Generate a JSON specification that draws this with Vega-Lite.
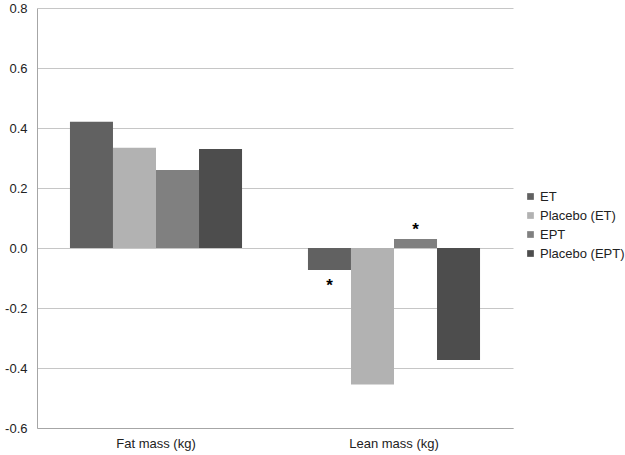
{
  "$schema": "https://vega.github.io/schema/vega-lite/v6.json",
  "width": 476,
  "height": 420,
  "autosize": "none",
  "padding": {"left": 37, "top": 8, "right": 112, "bottom": 27},
  "background": "white",
  "config": {
    "view": {"stroke": null},
    "font": "Liberation Sans",
    "axis": {"labelFont": "Liberation Sans", "labelFontSize": 13, "labelColor": "#222222"}
  },
  "data": {
    "values": [
      {"measure": "Fat mass (kg)", "group": "ET", "value": 0.421, "star": ""},
      {"measure": "Fat mass (kg)", "group": "Placebo (ET)", "value": 0.334, "star": ""},
      {"measure": "Fat mass (kg)", "group": "EPT", "value": 0.26, "star": ""},
      {"measure": "Fat mass (kg)", "group": "Placebo (EPT)", "value": 0.33, "star": ""},
      {"measure": "Lean mass (kg)", "group": "ET", "value": -0.073, "star": "*"},
      {"measure": "Lean mass (kg)", "group": "Placebo (ET)", "value": -0.455, "star": ""},
      {"measure": "Lean mass (kg)", "group": "EPT", "value": 0.03, "star": "*"},
      {"measure": "Lean mass (kg)", "group": "Placebo (EPT)", "value": -0.373, "star": ""}
    ]
  },
  "encoding": {
    "x": {
      "field": "measure", "type": "nominal",
      "scale": {"paddingInner": 0.277, "paddingOuter": 0.1385},
      "axis": {"title": null, "labelAngle": 0, "ticks": false, "domainColor": "#a6a6a6", "labelPadding": 9}
    },
    "xOffset": {"field": "group", "type": "nominal", "sort": ["ET", "Placebo (ET)", "EPT", "Placebo (EPT)"], "scale": {"paddingInner": 0, "paddingOuter": 0}},
    "y": {
      "field": "value", "type": "quantitative",
      "scale": {"domain": [-0.6, 0.8], "nice": false},
      "axis": {"title": null, "values": [-0.6, -0.4, -0.2, 0, 0.2, 0.4, 0.6, 0.8], "labelExpr": "replace(format(datum.value, '.1f'), '\u2212', '-')", "ticks": false, "labelPadding": 10, "domainColor": "#a6a6a6", "gridColor": "#c6c6c6", "grid": true}
    }
  },
  "layer": [
    {
      "mark": {"type": "bar"},
      "encoding": {
        "color": {
          "field": "group", "type": "nominal",
          "sort": ["ET", "Placebo (ET)", "EPT", "Placebo (EPT)"],
          "scale": {"domain": ["ET", "Placebo (ET)", "EPT", "Placebo (EPT)"], "range": ["#616161", "#b2b2b2", "#808080", "#4d4d4d"]},
          "legend": {
            "title": null, "orient": "none", "legendX": 487, "legendY": 182,
            "symbolType": "square", "symbolSize": 45, "symbolStrokeWidth": 0,
            "labelFontSize": 13, "labelFont": "Liberation Sans", "labelColor": "#222222",
            "rowPadding": 5, "labelOffset": 3
          }
        }
      }
    },
    {
      "transform": [{"filter": "datum.star == '*' && datum.value < 0"}],
      "mark": {"type": "text", "baseline": "middle", "dy": 16, "fontSize": 17, "fontWeight": "bold", "color": "#000000"},
      "encoding": {"text": {"field": "star"}}
    },
    {
      "transform": [{"filter": "datum.star == '*' && datum.value > 0"}],
      "mark": {"type": "text", "baseline": "middle", "dy": -9, "fontSize": 17, "fontWeight": "bold", "color": "#000000"},
      "encoding": {"text": {"field": "star"}}
    }
  ]
}
